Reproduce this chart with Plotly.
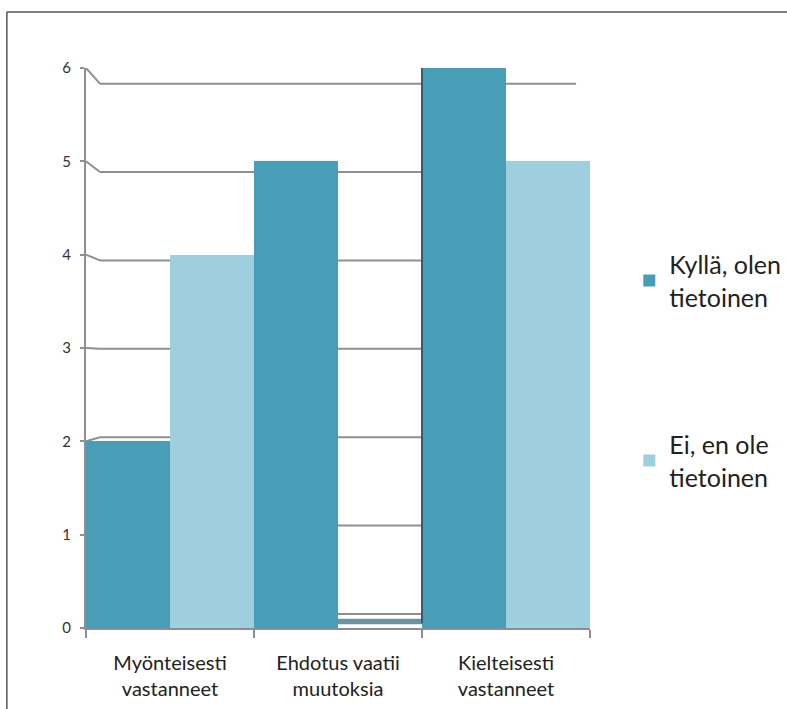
import plotly.graph_objects as go

categories = ["Myönteisesti<br>vastanneet", "Ehdotus vaatii<br>muutoksia", "Kielteisesti<br>vastanneet"]
series_names = ["Kyllä, olen<br>tietoinen", "Ei, en ole<br>tietoinen"]
yes_values = [2, 5, 6]
no_values = [4, 0, 5]
y_ticks = [0, 1, 2, 3, 4, 5, 6]

DARK = "#489eb7"
LIGHT = "#9fcedf"
GRID = "#8f8f8f"
FONT = "Lato"

fig = go.Figure()
fig.add_trace(go.Bar(x=categories, y=yes_values, name=series_names[0], marker_color=DARK,
                     marker_line_width=0, legendgroup="a"))
fig.add_trace(go.Bar(x=categories, y=no_values, name=series_names[1], marker_color=LIGHT,
                     marker_line_width=0, legendgroup="b"))

# pseudo-3D back wall gridlines
DX = 0.083           # depth offset in category units
SCALE, OFF = 0.947, 0.15
shapes = []
for v in y_ticks:
    by = v * SCALE + OFF
    shapes.append(dict(type="line", xref="x", yref="y", x0=-0.5, y0=v, x1=-0.5 + DX, y1=by,
                       line=dict(color=GRID, width=2), layer="below"))
    shapes.append(dict(type="line", xref="x", yref="y", x0=-0.5 + DX, y0=by, x1=2.5 - DX, y1=by,
                       line=dict(color=GRID, width=2), layer="below"))
# floor slab for zero-value bar
for i, val in enumerate(no_values):
    if val == 0:
        shapes.append(dict(type="rect", xref="x", yref="y", x0=i, x1=i + 0.5, y0=0.04, y1=0.1,
                           fillcolor="#6f929f", line_width=0, layer="above"))
        shapes.append(dict(type="line", xref="x", yref="y", x0=i + 0.5, x1=i + 0.5, y0=0.05,
                           y1=yes_values[i + 1] if i + 1 < len(yes_values) else 0,
                           line=dict(color="#2f5f6c", width=2), layer="above"))
# outer border (top and left edges visible)
shapes.append(dict(type="line", xref="paper", yref="paper", x0=-0.157, x1=1.5, y0=1.1, y1=1.1,
                   line=dict(color="#555555", width=1.5)))
shapes.append(dict(type="line", xref="paper", yref="paper", x0=-0.157, x1=-0.157, y0=-0.5, y1=1.1,
                   line=dict(color="#555555", width=1.5)))

fig.update_layout(
    width=787, height=709,
    margin=dict(l=86, r=197, t=68, b=81, autoexpand=False),
    paper_bgcolor="white", plot_bgcolor="white",
    barmode="group", bargap=0, bargroupgap=0,
    shapes=shapes,
    font=dict(family=FONT, color="#222222"),
    showlegend=True,
    legend=dict(x=1.078, y=0.69, xanchor="left", yanchor="top", tracegroupgap=112,
                traceorder="grouped", font=dict(size=25, family=FONT, color="#222222"),
                bgcolor="rgba(0,0,0,0)", itemwidth=30),
)
fig.update_xaxes(range=[-0.5, 2.5], type="category",
                 tickson="boundaries", ticks="outside", ticklen=8, tickcolor=GRID, tickwidth=2,
                 showline=True, linecolor=GRID, linewidth=2, showgrid=False, zeroline=False,
                 ticklabelstandoff=16,
                 tickfont=dict(size=20, family=FONT, color="#222222"))
fig.update_yaxes(range=[0, 6], tickvals=y_ticks, ticks="outside", ticklen=4, tickcolor=GRID,
                 tickwidth=2, showline=True, linecolor=GRID, linewidth=2, showgrid=False,
                 zeroline=False, ticklabelstandoff=6,
                 tickfont=dict(size=15, family=FONT, color="#333333"))

fig.write_html("out.html")
